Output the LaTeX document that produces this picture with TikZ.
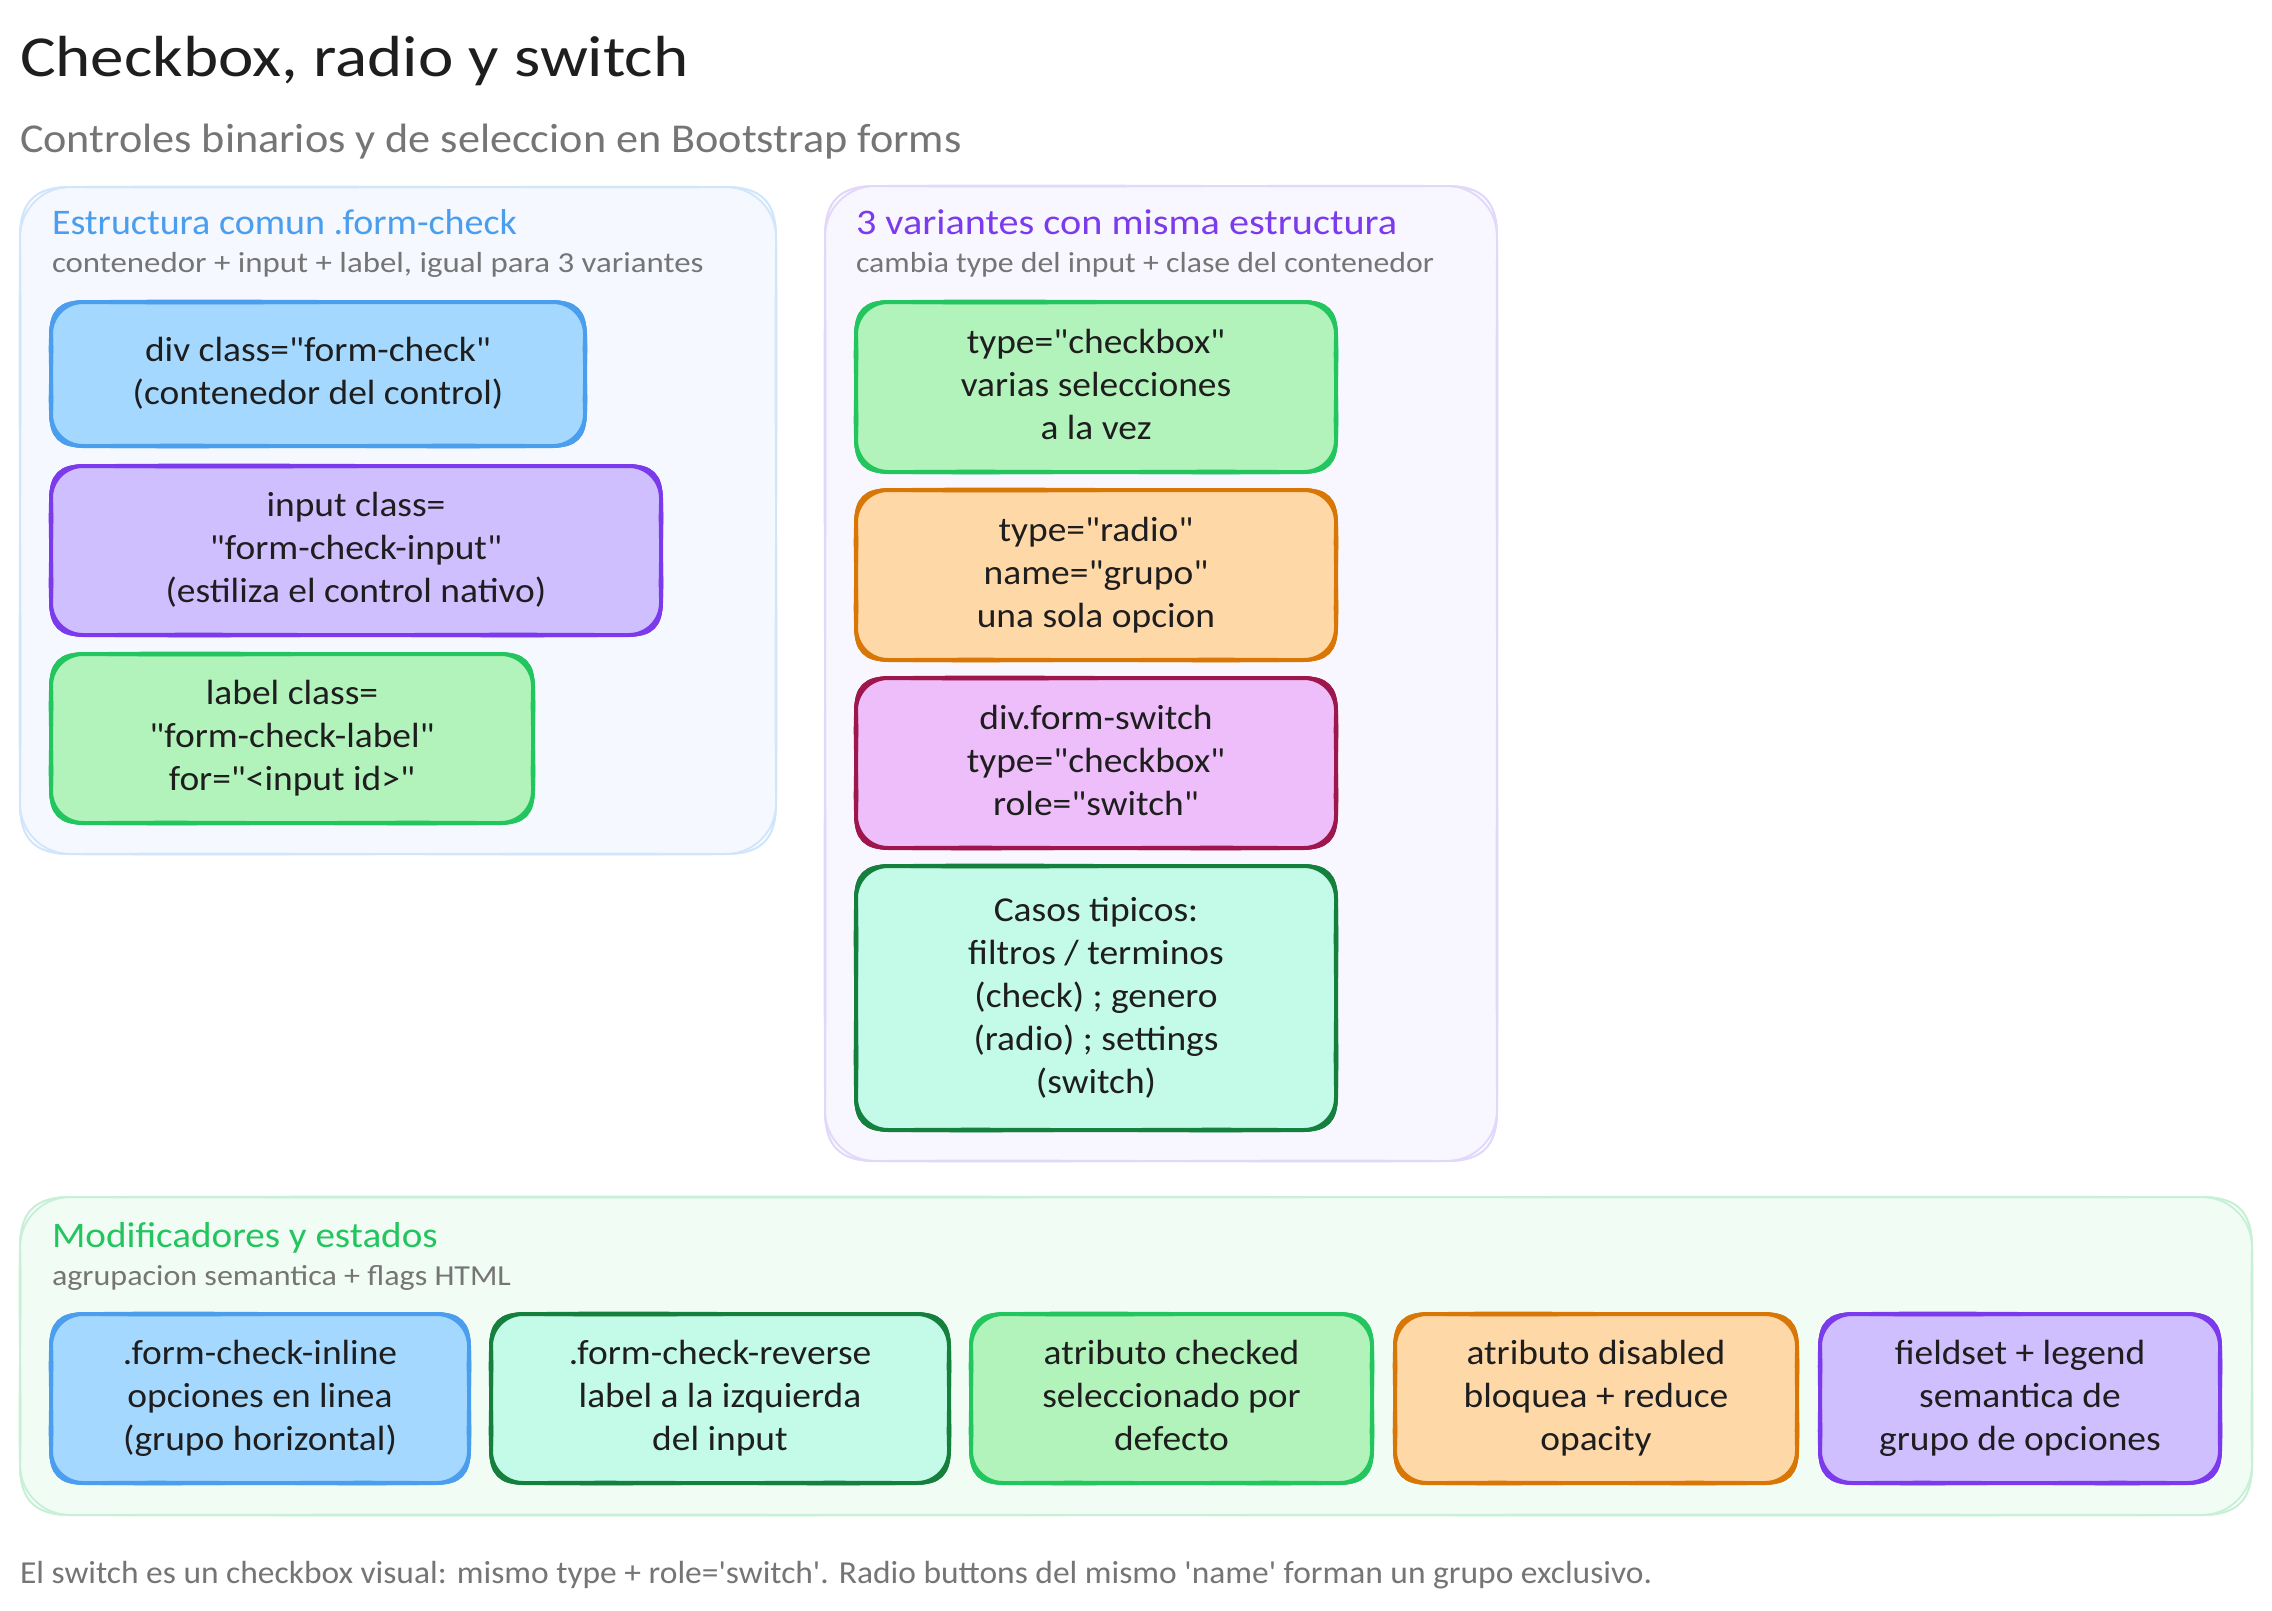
\documentclass[tikz,border=0pt]{standalone}
\usepackage{graphicx}
\usepackage{fontspec}
\newfontfamily\hand{Carlito}
\newfontfamily\handw[FakeStretch=1.07]{Carlito}
\tikzset{
  txt/.style={inner sep=0pt,outer sep=0pt,text=ink,font=\handw\fontsize{35}{43}\selectfont,align=center,text depth=6pt},
  lbl/.style={inner sep=0pt,outer sep=0pt,anchor=west,font=\hand},
  cblue/.style={fill=fblue,draw=sblue,stroke/.style={draw=sblue},bleed/.style={fill=fblue}},
  cpurple/.style={fill=fpurple,draw=spurple,stroke/.style={draw=spurple},bleed/.style={fill=fpurple}},
  cgreen/.style={fill=fgreen,draw=sgreen,stroke/.style={draw=sgreen},bleed/.style={fill=fgreen}},
  corange/.style={fill=forange,draw=sorange,stroke/.style={draw=sorange},bleed/.style={fill=forange}},
  cpink/.style={fill=fpink,draw=spink,stroke/.style={draw=spink},bleed/.style={fill=fpink}},
  cteal/.style={fill=fteal,draw=steal,stroke/.style={draw=steal},bleed/.style={fill=fteal}},
  gblue/.style={fill=gfblue,draw=gsblue,stroke/.style={draw=gsblue}},
  gpurple/.style={fill=gfpurple,draw=gspurple,stroke/.style={draw=gspurple}},
  ggreen/.style={fill=gfgreen,draw=gsgreen,stroke/.style={draw=gsgreen}},
  stroke/.style={},bleed/.style={},
}
\definecolor{ink}{HTML}{1E1E1E}
\definecolor{grayt}{HTML}{757575}
\definecolor{fblue}{HTML}{A5D8FF}\definecolor{sblue}{HTML}{4A9EED}
\definecolor{fpurple}{HTML}{D0BFFF}\definecolor{spurple}{HTML}{7C3AED}
\definecolor{fgreen}{HTML}{B2F2BB}\definecolor{sgreen}{HTML}{22C55E}
\definecolor{forange}{HTML}{FFD8A8}\definecolor{sorange}{HTML}{D97706}
\definecolor{fpink}{HTML}{EEBEFA}\definecolor{spink}{HTML}{9D174D}
\definecolor{fteal}{HTML}{C3FAE8}\definecolor{steal}{HTML}{15803D}
\definecolor{gfblue}{HTML}{F5F8FF}\definecolor{gsblue}{HTML}{D2E6FB}
\definecolor{gfpurple}{HTML}{F8F6FF}\definecolor{gspurple}{HTML}{E2D8FB}
\definecolor{gfgreen}{HTML}{F1FCF5}\definecolor{gsgreen}{HTML}{C8F0D7}
% rough outline: x1 y1 x2 y2 radius wobble
\newcommand\roughpath[6]{%
  ({#1+#5},{#2}) .. controls ({#1+0.35*(#3-#1)},{#2-#6}) and ({#3-0.35*(#3-#1)},{#2+0.6*#6}) .. ({#3-#5},{#2})
  .. controls ({#3-0.3*#5},{#2}) and ({#3},{#2+0.3*#5}) .. ({#3},{#2+#5})
  .. controls ({#3-#6},{#2+0.35*(#4-#2)}) and ({#3+#6},{#4-0.35*(#4-#2)}) .. ({#3},{#4-#5})
  .. controls ({#3},{#4-0.3*#5}) and ({#3-0.3*#5},{#4}) .. ({#3-#5},{#4})
  .. controls ({#3-0.35*(#3-#1)},{#4+#6}) and ({#1+0.35*(#3-#1)},{#4-#6}) .. ({#1+#5},{#4})
  .. controls ({#1+0.3*#5},{#4}) and ({#1},{#4-0.3*#5}) .. ({#1},{#4-#5})
  .. controls ({#1+#6},{#4-0.35*(#4-#2)}) and ({#1-#6},{#2+0.35*(#4-#2)}) .. ({#1},{#2+#5})
  .. controls ({#1},{#2+0.3*#5}) and ({#1+0.3*#5},{#2}) .. ({#1+#5},{#2}) -- cycle}
% name style x1 y1 x2 y2 text
\newcommand\card[7]{%
  \pgfmathsetmacro\cw{#5-#3}\pgfmathsetmacro\ch{#6-#4}%
  \pgfmathsetmacro\cx{(#5+#3)/2}\pgfmathsetmacro\cy{(#6+#4)/2}%
  \begin{scope}[#2]
  \path[bleed] \roughpath{#3}{#4}{#5}{#6}{34}{4};
  \end{scope}
  \node[#2,txt,rectangle,rounded corners=32pt,line width=4pt,minimum width=\cw pt,minimum height=\ch pt] (#1) at (\cx,\cy) {#7};
  \begin{scope}[#2]
  \draw[stroke,fill=none,line width=3.4pt] \roughpath{#3}{#4}{#5}{#6}{32}{2};
  \draw[stroke,fill=none,line width=3.4pt] \roughpath{#3}{#4}{#5}{#6}{32}{-2};
  \end{scope}}
\newcommand\group[6]{%
  \pgfmathsetmacro\cw{#5-#3}\pgfmathsetmacro\ch{#6-#4}%
  \pgfmathsetmacro\cx{(#5+#3)/2}\pgfmathsetmacro\cy{(#6+#4)/2}%
  \node[#2,rectangle,rounded corners=50pt,line width=2pt,minimum width=\cw pt,minimum height=\ch pt,inner sep=0pt] (#1) at (\cx,\cy) {};
  \begin{scope}[#2]
  \draw[stroke,fill=none,line width=1.8pt] \roughpath{#3}{#4}{#5}{#6}{50}{1.6};
  \draw[stroke,fill=none,line width=1.8pt] \roughpath{#3}{#4}{#5}{#6}{50}{-1.6};
  \end{scope}}
\begin{document}
\begin{tikzpicture}[x=1pt,y=-1pt]
\useasboundingbox (0,0) rectangle (2272,1611);
\fill[white] (0,0) rectangle (2272,1611);
\node[lbl,text=ink,font=\hand\fontsize{58}{70}\selectfont] (title) at (20,61) {\scalebox{1.156}[1]{Checkbox, radio y switch}};
\node[lbl,text=grayt,font=\hand\fontsize{41}{50}\selectfont] (subtitle) at (20,142) {\scalebox{1.078}[1]{Controles binarios y de seleccion en Bootstrap forms}};

\group{ga}{gblue}{20}{187}{776}{854}
\group{gb}{gpurple}{825}{186}{1497}{1161}
\group{gc}{ggreen}{20}{1197}{2252}{1515}

\node[lbl,text=sblue,font=\hand\fontsize{36}{44}\selectfont] (ga title) at (52,222) {\scalebox{1.056}[1]{Estructura comun .form-check}};
\node[lbl,text=grayt,font=\hand\fontsize{29}{36}\selectfont] (ga sub) at (52,265) {\scalebox{1.134}[1]{contenedor + input + label, igual para 3 variantes}};
\node[lbl,text=spurple,font=\hand\fontsize{36}{44}\selectfont] (gb title) at (856,222) {\scalebox{1.117}[1]{3 variantes con misma estructura}};
\node[lbl,text=grayt,font=\hand\fontsize{29}{36}\selectfont] (gb sub) at (856,265) {\scalebox{1.096}[1]{cambia type del input + clase del contenedor}};
\node[lbl,text=sgreen,font=\hand\fontsize{36}{44}\selectfont] (gc title) at (52,1238) {\scalebox{1.086}[1]{Modificadores y estados}};
\node[lbl,text=grayt,font=\hand\fontsize{29}{36}\selectfont] (gc sub) at (52,1278) {\scalebox{1.105}[1]{agrupacion semantica + flags HTML}};

\card{a1}{cblue}{51}{302}{585}{446}{div class="form-check"\\(contenedor del control)}
\card{a2}{cpurple}{51}{466}{661}{635}{input class=\\"form-check-input"\\(estiliza el control nativo)}
\card{a3}{cgreen}{51}{654}{533}{823}{label class=\\"form-check-label"\\for="<input id>"}

\card{b1}{cgreen}{856}{302}{1336}{472}{type="checkbox"\\varias selecciones\\a la vez}
\card{b2}{corange}{856}{490}{1336}{660}{type="radio"\\name="grupo"\\una sola opcion}
\card{b3}{cpink}{856}{678}{1336}{848}{div.form-switch\\type="checkbox"\\role="switch"}
\card{b4}{cteal}{856}{866}{1336}{1130}{Casos tipicos:\\filtros / terminos\\(check) ; genero\\(radio) ; settings\\(switch)}

\card{c1}{cblue}{51}{1314}{469}{1483}{.form-check-inline\\opciones en linea\\(grupo horizontal)}
\card{c2}{cteal}{491}{1314}{949}{1483}{.form-check-reverse\\label a la izquierda\\del input}
\card{c3}{cgreen}{971}{1314}{1372}{1483}{atributo checked\\seleccionado por\\defecto}
\card{c4}{corange}{1395}{1314}{1797}{1483}{atributo disabled\\bloquea + reduce\\opacity}
\card{c5}{cpurple}{1820}{1314}{2220}{1483}{fieldset + legend\\semantica de\\grupo de opciones}

\node[lbl,text=grayt,font=\hand\fontsize{32}{40}\selectfont] (footer) at (20,1575) {\scalebox{1.046}[1]{El switch es un checkbox visual: mismo type + role='switch'. Radio buttons del mismo 'name' forman un grupo exclusivo.}};
\end{tikzpicture}
\end{document}
